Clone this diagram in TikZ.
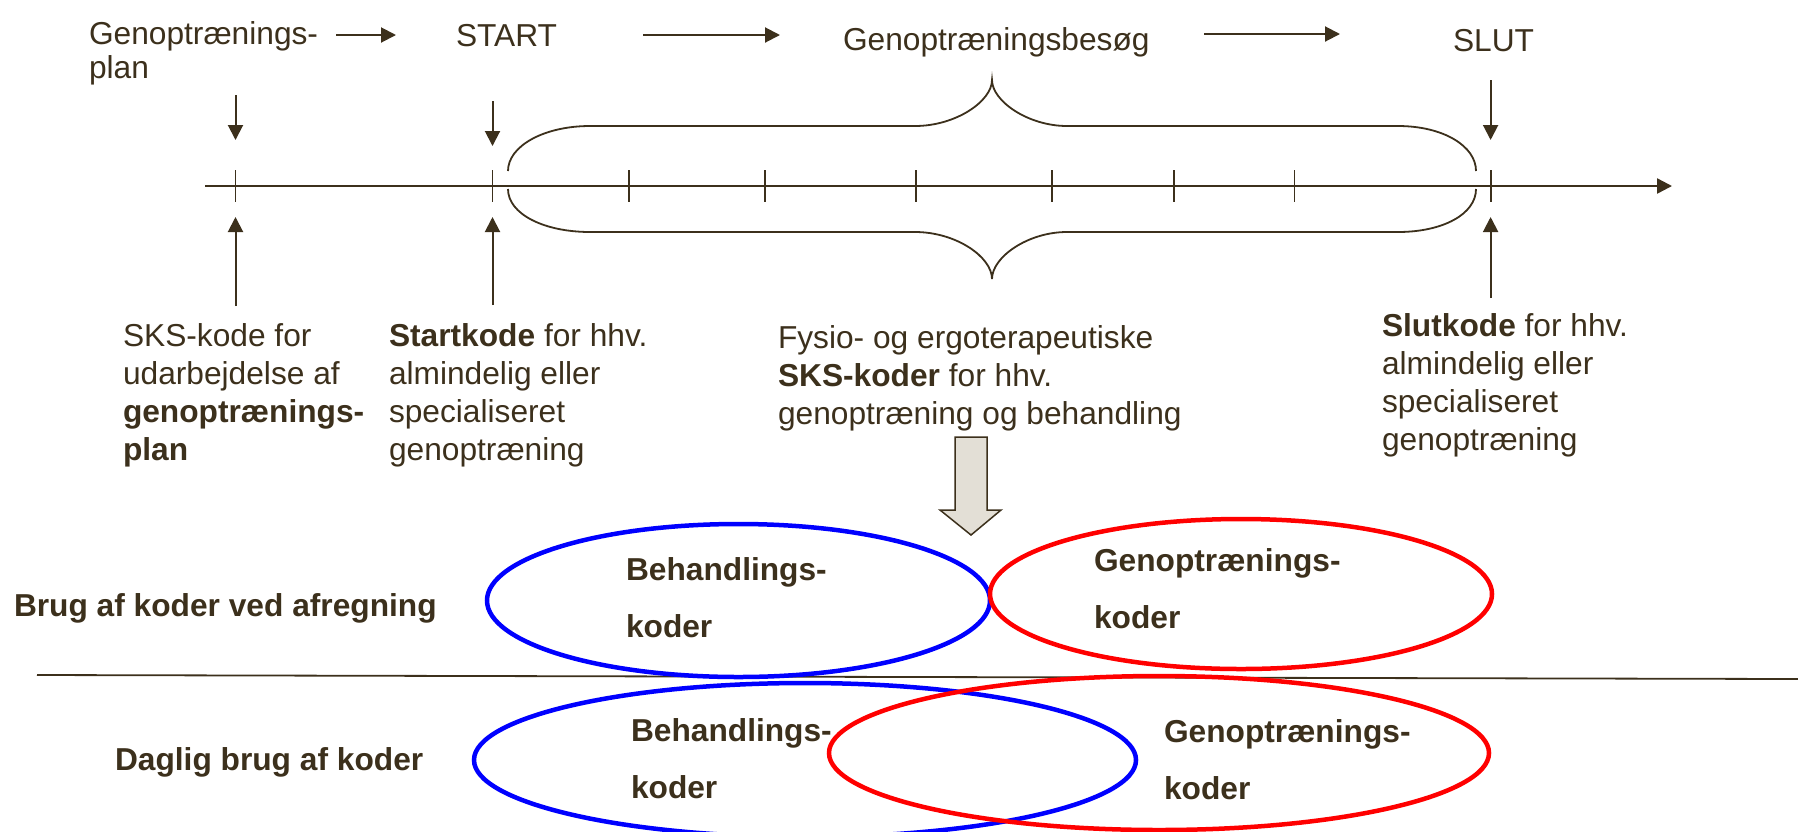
\documentclass[tikz,border=0pt]{standalone}
\usepackage{fontspec}
\setmainfont{Liberation Sans}
\usetikzlibrary{arrows.meta}
\definecolor{ink}{RGB}{60,48,28}
\definecolor{arrowfill}{RGB}{227,223,214}
\begin{document}
\begin{tikzpicture}[x=1pt,y=-1pt,
  every node/.style={inner sep=0pt, outer sep=0pt, text=ink},
  lbl/.style={anchor=base west, align=left, font=\fontsize{31.7}{38}\selectfont},
  blbl/.style={anchor=base west, align=left, font=\fontsize{31.7}{57}\selectfont\bfseries},
  conn/.style={draw=ink, line width=2pt, -{Triangle[length=15pt,width=15pt]}},
  ln/.style={draw=ink, line width=1.8pt},
  tickmark/.style={draw=ink, line width=1.8pt},
  oval/.style={line width=4.5pt}]
\useasboundingbox (0,0) rectangle (1798,831);

% top labels (base anchor = baseline of last line)
\node[lbl, font=\fontsize{31.7}{34}\selectfont] (plan) at (89,78) {Genoptrænings-\\plan};
\node[lbl] (start) at (456,46) {START};
\node[lbl] (besog) at (843,50) {Genoptræningsbesøg};
\node[lbl] (slut) at (1453,51) {SLUT};

\coordinate (a1s) at (336,35); \coordinate (a1e) at (396,35);
\coordinate (a2s) at (643,35); \coordinate (a2e) at (780,35);
\coordinate (a3s) at (1204,34); \coordinate (a3e) at (1340,34);
\draw[conn] (a1s) -- (a1e);
\draw[conn] (a2s) -- (a2e);
\draw[conn] (a3s) -- (a3e);

% timeline
\coordinate (tl0) at (205,186); \coordinate (tl1) at (1672,186);
\draw[draw=ink, line width=2.4pt, -{Triangle[length=15pt,width=15pt]}] (tl0) -- (tl1);
\foreach \x in {235.5,492.5,628.6,764.6,916,1052,1174,1294.5,1490.6}
  \draw[tickmark] (\x,170) -- (\x,202);

% vertical arrows
\coordinate (d1s) at (235.5,95);  \coordinate (d1e) at (235.5,140);
\coordinate (d2s) at (492.5,101); \coordinate (d2e) at (492.5,146);
\coordinate (d3s) at (1490.6,80); \coordinate (d3e) at (1490.6,140);
\coordinate (u1s) at (235.5,306); \coordinate (u1e) at (235.5,217);
\coordinate (u2s) at (492.5,305); \coordinate (u2e) at (492.5,217);
\coordinate (u3s) at (1490.6,298);\coordinate (u3e) at (1490.6,217);
\foreach \p in {d1,d2,d3,u1,u2,u3} \draw[conn] (\p s) -- (\p e);

% braces
\draw[ln] (508,171) .. controls (508,146) and (544,126) .. (590,126)
  -- (915,126) .. controls (956,126) and (992,101) .. (992,80)
  .. controls (992,101) and (1028,126) .. (1067,126)
  -- (1398,126) .. controls (1443,126) and (1476,146) .. (1476,171);
\draw[ln] (508,189) .. controls (508,214) and (544,232) .. (590,232)
  -- (915,232) .. controls (956,232) and (992,257) .. (992,279)
  .. controls (992,257) and (1028,232) .. (1067,232)
  -- (1398,232) .. controls (1443,232) and (1476,214) .. (1476,189);

% lower text blocks
\node[lbl] (sks) at (123,460) {SKS-kode for\\udarbejdelse af\\\textbf{genoptrænings-}\\\textbf{plan}};
\node[lbl] (startk) at (389,460) {\textbf{Startkode} for hhv.\\almindelig eller\\specialiseret\\genoptræning};
\node[lbl] (fysio) at (778,424) {Fysio- og ergoterapeutiske\\\textbf{SKS-koder} for hhv.\\genoptræning og behandling};
\node[lbl] (slutk) at (1382,450) {\textbf{Slutkode} for hhv.\\almindelig eller\\specialiseret\\genoptræning};

% block arrow
\draw[fill=arrowfill, draw=ink, line width=1.5pt] (955,437) -- (987,437) -- (987,510) -- (1001,510) -- (971,535) -- (940,510) -- (955,510) -- cycle;

% separator
\coordinate (sepL) at (37,675); \coordinate (sepR) at (1798,679);
\draw[ln] (sepL) -- (sepR);

% ellipses
\draw[oval, blue] (738.5,600.5) ellipse [x radius=251.5, y radius=76.5];
\draw[oval, red] (1241,594) ellipse [x radius=251, y radius=75];
\draw[oval, blue] (805,760) ellipse [x radius=331, y radius=77];
\draw[oval, red] (1159,753) ellipse [x radius=330, y radius=77];

% ellipse texts
\node[blbl] (beh1) at (626,637) {Behandlings-\\koder};
\node[blbl] (gen1) at (1094,628) {Genoptrænings-\\koder};
\node[blbl] (beh2) at (631,798) {Behandlings-\\koder};
\node[blbl] (gen2) at (1164,799) {Genoptrænings-\\koder};

% left labels
\node[blbl] (brug) at (14,616) {Brug af koder ved afregning};
\node[blbl] (daglig) at (115,770) {Daglig brug af koder};
\end{tikzpicture}
\end{document}
